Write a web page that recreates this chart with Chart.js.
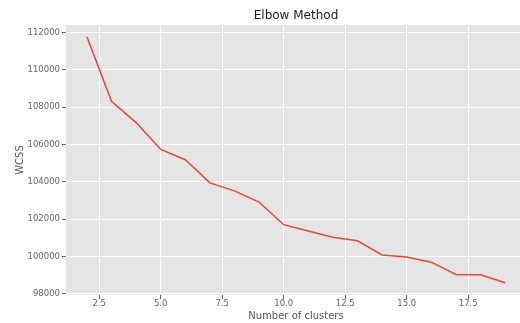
<!DOCTYPE html>
<html>
<head>
<meta charset="utf-8">
<script src="https://cdn.jsdelivr.net/npm/chart.js@4"></script>
<style>
  html, body { margin: 0; padding: 0; background: #fff; overflow: hidden; }
  #wrap { width: 526px; height: 323px; position: relative; }
</style>
</head>
<body>
<div id="wrap"><canvas id="elbowChart"></canvas></div>
<script>
// data
const clusters = [2, 3, 4, 5, 6, 7, 8, 9, 10, 11, 12, 13, 14, 15, 16, 17, 18, 19];
const wcss = [111780, 108320, 107180, 105740, 105190, 103950, 103520, 102920,
              101710, 101370, 101040, 100850, 100090, 99980, 99700, 99040, 99030, 98600];
const xTicks = [2.5, 5, 7.5, 10, 12.5, 15, 17.5];
const yTicks = [98000, 100000, 102000, 104000, 106000, 108000, 110000, 112000];

const plotBg = {
    id: 'plotBg',
    beforeDraw(chart) {
        const { ctx, chartArea } = chart;
        ctx.save();
        ctx.fillStyle = '#ffffff';
        ctx.fillRect(0, 0, chart.width, chart.height);
        ctx.fillStyle = '#e5e5e5';
        ctx.fillRect(chartArea.left, chartArea.top,
            chartArea.right - chartArea.left, chartArea.bottom - chartArea.top);
        ctx.restore();
    }
};

const tickFont = { family: 'DejaVu Sans', size: 8.5, lineHeight: 1.2 };
const labelFont = { family: 'DejaVu Sans', size: 10, lineHeight: 1.2 };

new Chart(document.getElementById('elbowChart'), {
    type: 'line',
    data: {
        datasets: [{
            data: clusters.map((c, i) => ({ x: c, y: wcss[i] })),
            borderColor: '#E24A33',
            borderWidth: 1.5,
            pointRadius: 0,
            tension: 0,
            fill: false
        }]
    },
    options: {
        responsive: true,
        maintainAspectRatio: false,
        animation: false,
        layout: { padding: 0 },
        plugins: {
            legend: { display: false },
            tooltip: { enabled: false },
            title: {
                display: true,
                text: 'Elbow Method',
                fullSize: false,
                color: '#222',
                font: { family: 'DejaVu Sans', size: 12, weight: 'normal', lineHeight: 1.2 },
                padding: { top: 8.8, bottom: 1.8 }
            }
        },
        scales: {
            x: {
                type: 'linear',
                min: 1.15,
                max: 19.85,
                afterBuildTicks(scale) {
                    scale.ticks = xTicks.map(v => ({ value: v }));
                },
                afterFit(scale) { scale.height = 28; },
                border: { display: false },
                grid: { color: '#ffffff', lineWidth: 1, tickColor: '#666', tickLength: 4 },
                ticks: {
                    color: '#666',
                    font: tickFont,
                    padding: 0,
                    maxRotation: 0,
                    callback: v => Number(v).toFixed(1)
                },
                title: {
                    display: true,
                    text: 'Number of clusters',
                    color: '#555',
                    font: labelFont,
                    padding: { top: 0, bottom: 0.2 }
                }
            },
            y: {
                min: 97943,
                max: 112407,
                afterBuildTicks(scale) {
                    scale.ticks = yTicks.map(v => ({ value: v }));
                },
                afterFit(scale) { scale.width = 66; },
                border: { display: false },
                grid: { color: '#ffffff', lineWidth: 1, tickColor: '#666', tickLength: 4 },
                ticks: {
                    color: '#666',
                    font: tickFont,
                    padding: 2,
                    callback: v => String(v)
                },
                title: {
                    display: true,
                    text: 'WCSS',
                    color: '#555',
                    font: labelFont,
                    padding: { top: 14, bottom: 0 }
                }
            }
        }
    },
    plugins: [plotBg]
});
</script>
</body>
</html>
